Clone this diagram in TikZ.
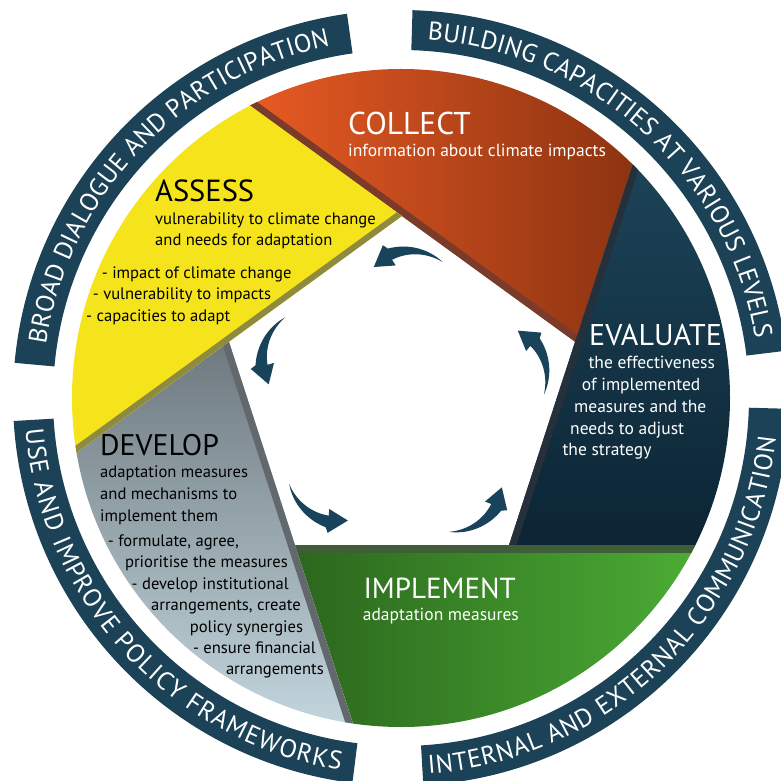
\documentclass[tikz,border=0pt]{standalone}
\usepackage{fontspec}
\setmainfont{PT Sans}
\usetikzlibrary{calc,decorations.text}
\definecolor{banner}{HTML}{1B4256}
\definecolor{arrowc}{HTML}{18435A}
\definecolor{orA}{HTML}{EA5B24}
\definecolor{orM}{HTML}{D4501E}
\definecolor{orB}{HTML}{8A3210}
\definecolor{orS}{HTML}{7A3B2B}
\definecolor{evA}{HTML}{1D4459}
\definecolor{evB}{HTML}{0B2433}
\definecolor{evS}{HTML}{25303B}
\definecolor{grA}{HTML}{2B661D}
\definecolor{grB}{HTML}{4CAD35}
\definecolor{grS}{HTML}{3F5E37}
\definecolor{dvA}{HTML}{6D787E}
\definecolor{dvB}{HTML}{C4D7DF}
\definecolor{dvS}{HTML}{63686C}
\definecolor{yeA}{HTML}{F5E41C}
\definecolor{yeS}{HTML}{8E8A3E}
\newcommand\bannerfont{\fontsize{25.6}{25.6}\selectfont}
\newcommand\cycarrow[1]{%
\begin{scope}[shift={(1,0)}, rotate=#1, shift={(3.2,92.5)}]
\fill[arrowc] plot[domain=55:113,samples=30] ({cos(\x)*(55+6*(\x-55)/58)},{sin(\x)*(55+6*(\x-55)/58)})
 -- (116:66) -- (135:52.5) -- (111:42.5)
 -- plot[domain=113:55,samples=30] ({cos(\x)*(55-6*(\x-55)/58)},{sin(\x)*(55-6*(\x-55)/58)}) -- cycle;
\end{scope}}
\tikzset{
  ttl/.style={font=\fontsize{#1}{#1}\selectfont, anchor=base west, inner sep=0pt},
  bdw/.style={font=\fontsize{17.5}{17.5}\selectfont, anchor=base west, inner sep=0pt, text=white},
  bdk/.style={font=\fontsize{16.6}{16.6}\selectfont, anchor=base west, inner sep=0pt, text=black},
  bdke/.style={bdk, anchor=base east},
  bantext/.style={decorate, decoration={text along path, text align=center, text color=white, text={|\bannerfont|#1}}},
  bantextfit/.style={decorate, decoration={text along path, text align=fit to path, text color=white, text={|\bannerfont|#1}}}
}
\begin{document}
\begin{tikzpicture}[x=1pt,y=1pt]
\useasboundingbox[fill=white] (-401,-383) rectangle (379,398);
% banners
\fill[banner] (98:388) arc[start angle=98,end angle=174.8,radius=388] -- (174.8:348) arc[start angle=174.8,end angle=98,radius=348] -- cycle;
\fill[banner] (7:388) arc[start angle=7,end angle=88.3,radius=388] -- (88.3:348) arc[start angle=88.3,end angle=7,radius=348] -- cycle;
\fill[banner] (-86.7:388) arc[start angle=-86.7,end angle=-1.6,radius=388] -- (-1.6:348) arc[start angle=-1.6,end angle=-86.7,radius=348] -- cycle;
\fill[banner] (183.4:388) arc[start angle=183.4,end angle=262.8,radius=388] -- (262.8:348) arc[start angle=262.8,end angle=183.4,radius=348] -- cycle;
\path[bantext={BROAD DIALOGUE AND PARTICIPATION}] (174.8:359.1) arc[start angle=174.8,end angle=98,radius=359.1];
\path[bantext={BUILDING CAPACITIES AT VARIOUS LEVELS}] (88.3:359.1) arc[start angle=88.3,end angle=7,radius=359.1];
\path[bantextfit={INTERNAL AND EXTERNAL COMMUNICATION}] (-85.8:376.9) arc[start angle=-85.8,end angle=-6,radius=376.9];
\path[bantextfit={USE AND IMPROVE POLICY FRAMEWORKS}] (184.8:376.9) arc[start angle=184.8,end angle=260.7,radius=376.9];
% pentagon vertices
\foreach \k in {0,...,4} \coordinate (V\k) at ($(1,0)+({90-72*\k}:182)$);
% sectors
\begin{scope}
 \clip (0,0) circle[radius=329];
 % orange S0
 \begin{scope}
  \clip (V1) -- ($(V1)!10!(V0)$) -- ($(V2)!10!(V1)$) -- cycle;
  \shade[left color=orA, middle color=orM, right color=orB] (-160,50) rectangle (245,335);
  \draw[orS, line width=14pt] (V1) -- ($(V1)!10!(V0)$);
 \end{scope}
 % evaluate S1
 \begin{scope}
  \clip (V2) -- ($(V2)!10!(V1)$) -- ($(V3)!10!(V2)$) -- cycle;
  \shade[top color=evA, bottom color=evB] (100,-155) rectangle (335,245);
  \draw[evS, line width=14pt] (V2) -- ($(V2)!10!(V1)$);
 \end{scope}
 % green S2
 \begin{scope}
  \clip (V3) -- ($(V3)!10!(V2)$) -- ($(V4)!10!(V3)$) -- cycle;
  \shade[left color=grA, right color=grB] (-110,-335) rectangle (300,-140);
  \draw[grS, line width=16pt] (V3) -- ($(V3)!10!(V2)$);
 \end{scope}
 % develop S3
 \begin{scope}
  \clip (V4) -- ($(V4)!10!(V3)$) -- ($(V0)!10!(V4)$) -- cycle;
  \shade[top color=dvA, bottom color=dvB] (-335,-335) rectangle (-30,60);
  \draw[dvS, line width=14pt] (V4) -- ($(V4)!10!(V3)$);
 \end{scope}
 % yellow S4
 \begin{scope}
  \clip (V0) -- ($(V0)!10!(V4)$) -- ($(V1)!10!(V0)$) -- cycle;
  \fill[yeA] (-335,-100) rectangle (100,335);
  \draw[yeS, line width=12pt] (V0) -- ($(V0)!10!(V4)$);
 \end{scope}
\end{scope}
% arrows
\foreach \a in {-2.5,69.5,141.5,213.5,285.5} {\cycarrow{\a}}
% texts
\node[ttl=31.5, text=white] (collect) at (-53,263) {COLLECT};
\node[bdw] (collect1) at (-53,241.3) {information about climate impacts};
\node[ttl=30.5, text=black] (assess) at (-246,196) {ASSESS};
\node[bdk] (assess1) at (-246,173) {vulnerability to climate change};
\node[bdk] (assess2) at (-246,152.3) {and needs for adaptation};
\node[bdk] (assess3) at (-299.3,119) {- impact of climate change};
\node[bdk] (assess4) at (-308.3,98) {- vulnerability to impacts};
\node[bdk] (assess5) at (-315,76.3) {- capacities to adapt};
\node[ttl=29.8, text=black] (develop) at (-301,-57) {DEVELOP};
\node[bdk] (develop1) at (-301,-79.3) {adaptation measures};
\node[bdk] (develop2) at (-301,-101.3) {and mechanisms to};
\node[bdk] (develop3) at (-301,-123) {implement them};
\node[bdke] (develop4) at (-162,-148.7) {- formulate, agree,};
\node[bdke] (develop5) at (-113,-169.7) {prioritise the measures};
\node[bdke] (develop6) at (-112,-191.3) {- develop institutional};
\node[bdke] (develop7) at (-100,-212) {arrangements, create};
\node[bdke] (develop8) at (-97.7,-234.3) {policy synergies};
\node[bdke] (develop9) at (-85,-255.3) {- ensure financial};
\node[bdke] (develop10) at (-77,-276) {arrangements};
\node[ttl=29, text=white] (implement) at (-37.7,-200.3) {IMPLEMENT};
\node[bdw] (implement1) at (-38.3,-222) {adaptation measures};
\node[ttl=30, text=white] (evaluate) at (188,52) {EVALUATE};
\node[bdw] (evaluate1) at (187.3,29) {the effectiveness};
\node[bdw] (evaluate2) at (180.7,7) {of implemented};
\node[bdw] (evaluate3) at (173,-14.7) {measures and the};
\node[bdw] (evaluate4) at (169,-36.3) {needs to adjust};
\node[bdw] (evaluate5) at (161.3,-57.7) {the strategy};
\end{tikzpicture}
\end{document}
